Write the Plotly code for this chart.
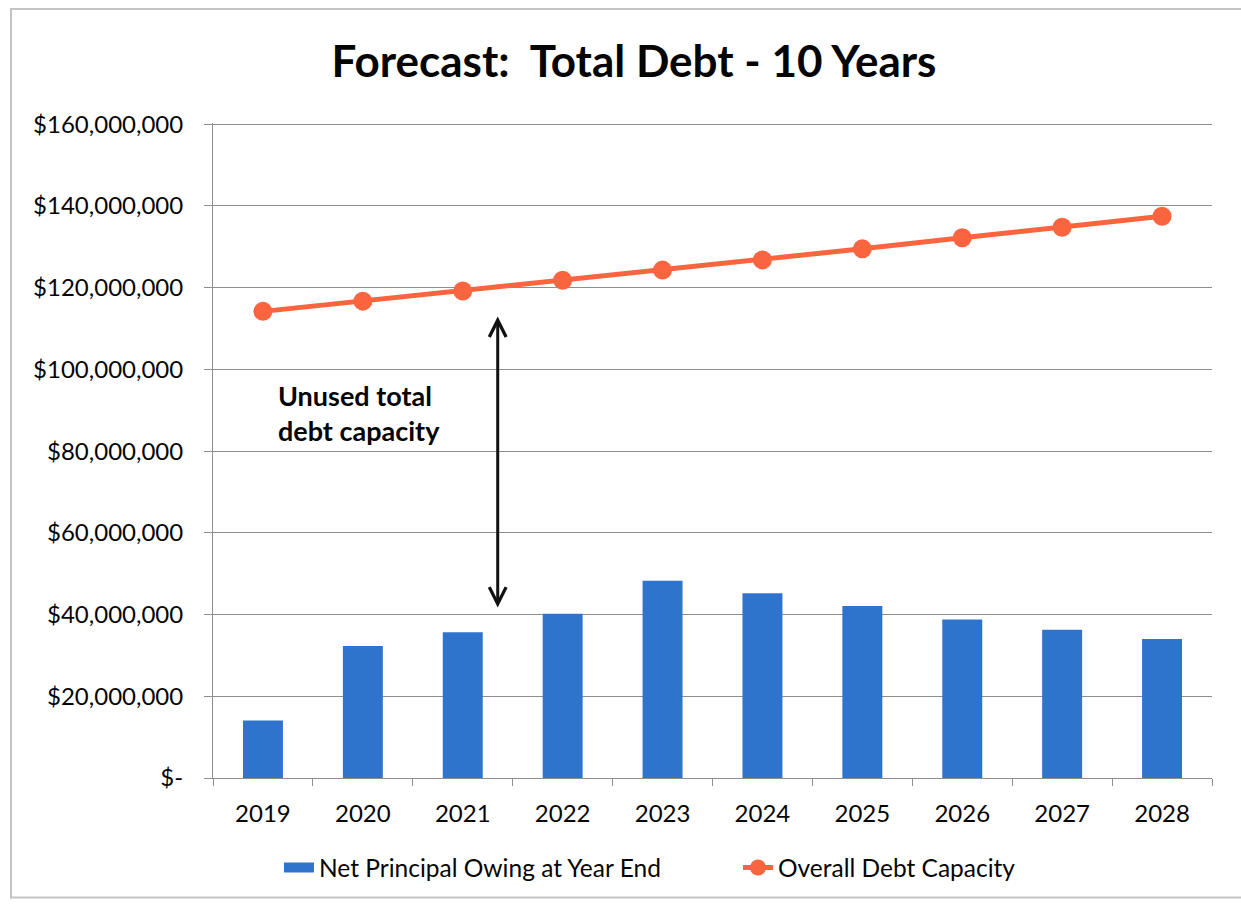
import plotly.graph_objects as go

years = ["2019", "2020", "2021", "2022", "2023", "2024", "2025", "2026", "2027", "2028"]
net_principal = [14.1e6, 32.3e6, 35.7e6, 40.2e6, 48.3e6, 45.2e6, 42.1e6, 38.8e6, 36.3e6, 34.0e6]
debt_capacity = [114.2e6, 116.7e6, 119.2e6, 121.8e6, 124.3e6, 126.8e6, 129.5e6, 132.2e6, 134.8e6, 137.5e6]
y_tickvals = [0, 20e6, 40e6, 60e6, 80e6, 100e6, 120e6, 140e6, 160e6]
y_ticktext = ["$-", "$20,000,000", "$40,000,000", "$60,000,000", "$80,000,000",
              "$100,000,000", "$120,000,000", "$140,000,000", "$160,000,000"]

FONT = "Lato"
BAR_C = "#2F74CC"
LINE_C = "#FA6540"
GRID_C = "#8E8E8E"
TXT_C = "#050505"

fig = go.Figure()
fig.add_trace(go.Bar(x=years, y=net_principal, name="Net Principal Owing at Year End",
                     marker=dict(color=BAR_C, line=dict(width=0)), showlegend=False))
# legend proxy for the bar series (wide flat swatch as in the original)
fig.add_trace(go.Scatter(x=[None], y=[None], mode="lines", name="Net Principal Owing at Year End",
                         line=dict(color=BAR_C, width=10)))
fig.add_trace(go.Scatter(x=years, y=debt_capacity, name="Overall Debt Capacity",
                         mode="lines+markers",
                         line=dict(color=LINE_C, width=5),
                         marker=dict(color=LINE_C, size=19)))

# double-headed arrow
fig.add_annotation(x=2.35, y=41.7e6, ax=2.35, ay=113.3e6, xref="x", yref="y",
                   axref="x", ayref="y", text="", showarrow=True,
                   arrowside="end+start", arrowhead=5, arrowsize=1.1,
                   arrowwidth=3, arrowcolor="#111111")
fig.add_annotation(x=0.13, y=89.3e6, xref="x", yref="y", xanchor="left", yanchor="middle",
                   text="<b>Unused total<br>debt capacity</b>", showarrow=False, align="left",
                   font=dict(family=FONT, size=27, color=TXT_C))

# outer frame of the chart
fig.add_shape(type="rect", xref="paper", yref="paper",
              x0=(11 - 213) / 999, x1=(1250 - 213) / 999,
              y0=(778.5 - 898) / 654.5, y1=(778.5 - 10) / 654.5,
              line=dict(color="#C4C4C4", width=2), fillcolor="rgba(0,0,0,0)", layer="below")

fig.update_layout(
    width=1241, height=905,
    margin=dict(l=213, r=29, t=123, b=126.5, autoexpand=False),
    paper_bgcolor="white", plot_bgcolor="white",
    font=dict(family=FONT, size=23, color=TXT_C),
    title=dict(text="<b>Forecast:  Total Debt - 10 Years</b>", x=634 / 1241, xanchor="center",
               y=1 - 62 / 905, yanchor="middle", xref="container", yref="container",
               font=dict(family=FONT, size=44, color=TXT_C)),
    bargap=0.6,
    showlegend=True,
    legend=dict(orientation="h", x=(279 - 213) / 999, xanchor="left",
                y=(778.5 - 868) / 654.5, yanchor="middle",
                font=dict(family=FONT, size=24.5, color=TXT_C),
                entrywidth=414, entrywidthmode="pixels", traceorder="normal"),
    xaxis=dict(type="category", range=[-0.5, 9.5], showgrid=False, showline=True,
               linecolor=GRID_C, linewidth=1,
               ticks="outside", tickson="boundaries", ticklen=7, tickcolor=GRID_C,
               ticklabelstandoff=14,
               tickfont=dict(family=FONT, size=24, color=TXT_C)),
    yaxis=dict(range=[0, 160.3e6], tickvals=y_tickvals, ticktext=y_ticktext,
               showgrid=True, gridcolor=GRID_C, gridwidth=1,
               showline=True, linecolor=GRID_C, linewidth=1,
               ticks="outside", ticklen=8, tickcolor=GRID_C,
               ticklabelstandoff=16,
               tickfont=dict(family=FONT, size=24, color=TXT_C), zeroline=False),
)

fig.write_html("out.html")
